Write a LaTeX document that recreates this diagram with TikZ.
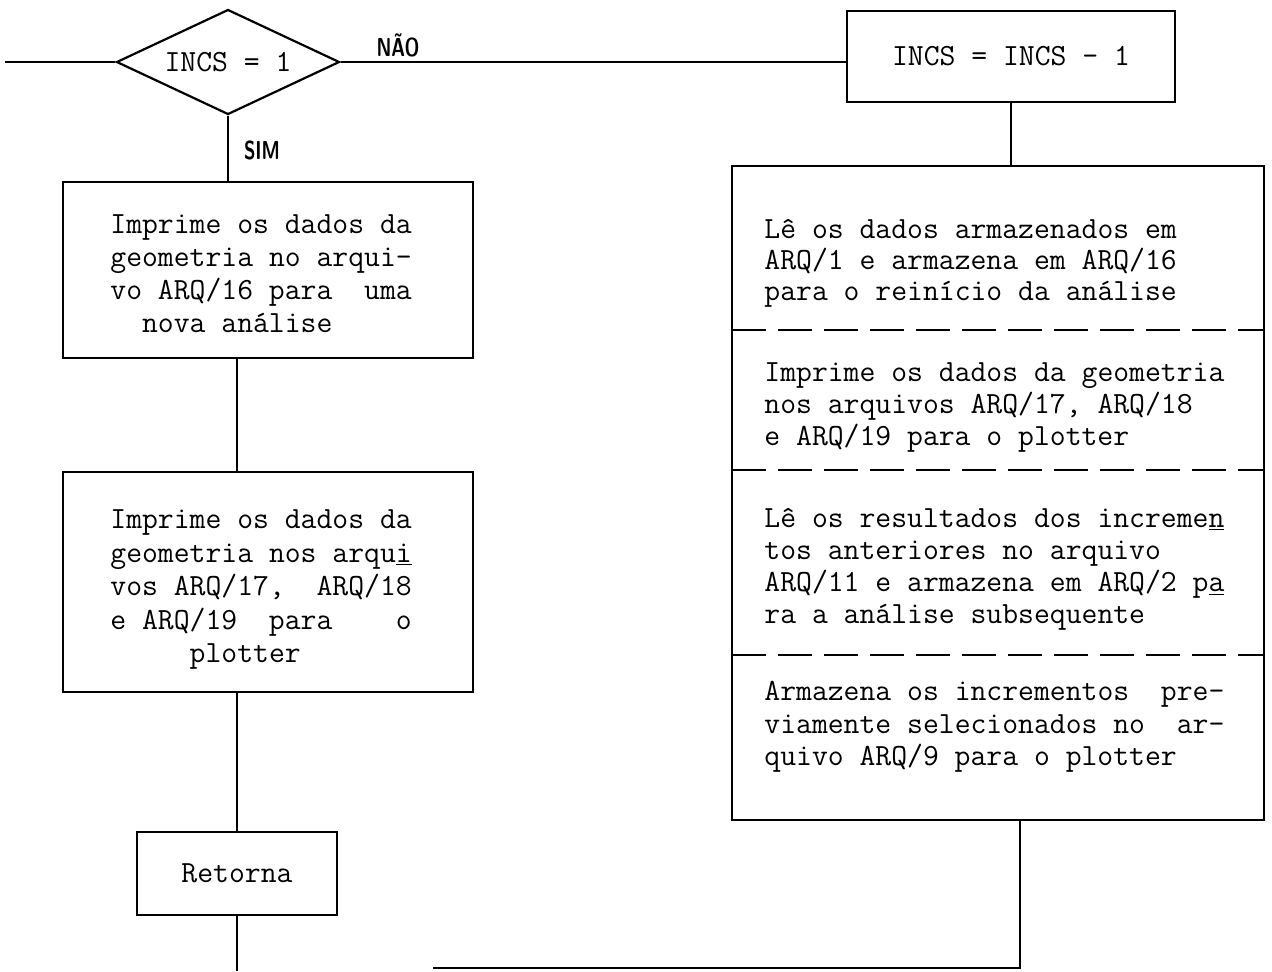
\documentclass[tikz,border=0pt]{standalone}
\usepackage{graphicx}
\usetikzlibrary{shapes.geometric}
\begin{document}
\begin{tikzpicture}[x=0.5pt,y=-0.5pt,
  every node/.style={inner sep=0pt},
  ln/.style={line width=1.1pt},
  boxs/.style={draw, line width=1.1pt, rectangle},
  tx/.style={anchor=base west, font=\fontsize{15.4pt}{16pt}\selectfont\ttfamily},
  ctx/.style={font=\fontsize{15.4pt}{16pt}\selectfont\ttfamily},
  lab/.style={font=\fontsize{13pt}{13pt}\selectfont\sffamily\bfseries},
  sep/.style={line width=1.1pt, dash pattern=on 17pt off 6pt}]
\useasboundingbox (0,0) rectangle (1272,971);

% decision and boxes
\node[draw, ln, diamond, aspect=2.1, minimum width=111.5pt, minimum height=52.5pt, ctx] (dia) at (228,62) {INCS = 1};
\node[boxs, minimum width=164pt, minimum height=45.5pt, ctx] (inc) at (1011,56.5) {INCS = INCS - 1};
\node[boxs, minimum width=205pt, minimum height=88pt] (b1) at (268,270) {};
\node[boxs, minimum width=205pt, minimum height=110pt] (b2) at (268,582) {};
\node[boxs, minimum width=100pt, minimum height=41.5pt, ctx] (ret) at (237,873.5) {Retorna};
\node[boxs, minimum width=266pt, minimum height=327pt] (big) at (998,493) {};

% labels
\node[lab] (nao) at (398,45) {\scalebox{0.72}[1]{NÃO}};
\node[lab] (sim) at (262,150) {\scalebox{0.72}[1]{SIM}};

% separators in the big box
\draw[sep] (732,330) -- (1264,330);
\draw[sep] (732,470) -- (1264,470);
\draw[sep] (732,655) -- (1264,655);

% texts of left boxes
\foreach \t [count=\i] in {{Imprime os dados da},{geometria no arqui-},{vo ARQ/16 para~ uma},{~~nova análise}}
  \node[tx] (la\i) at (110, 200+33*\i) {\t};
\foreach \t [count=\i] in {{Imprime os dados da},{geometria nos arqu\underline{i}},{vos ARQ/17,~ ARQ/18},{e ARQ/19~ para~~~ o},{~~~~~plotter}}
  \node[tx] (lb\i) at (110, 495+33.5*\i) {\t};

% texts of the big box
\foreach \t [count=\i] in {{Lê os dados armazenados em},{ARQ/1 e armazena em ARQ/16},{para o reinício da análise}}
  \node[tx] (ra\i) at (764, 207+31*\i) {\t};
\foreach \t [count=\i] in {{Imprime os dados da geometria},{nos arquivos ARQ/17, ARQ/18},{e ARQ/19 para o plotter}}
  \node[tx] (rb\i) at (764, 349+32*\i) {\t};
\foreach \t [count=\i] in {{Lê os resultados dos increme\underline{n}},{tos anteriores no arquivo},{ARQ/11 e armazena em ARQ/2 p\underline{a}},{ra a análise subsequente}}
  \node[tx] (rc\i) at (764, 495+32*\i) {\t};
\foreach \t [count=\i] in {{Armazena os incrementos~ pre-},{viamente selecionados no~ ar-},{quivo ARQ/9 para o plotter}}
  \node[tx] (rd\i) at (764, 668+32.5*\i) {\t};

% connectors
\coordinate (start) at (5,62);
\coordinate (endL) at (237,971);
\coordinate (bc) at (1020,968);
\coordinate (endR) at (433,968);
\draw[ln] (start) -- (dia.west);
\draw[ln] (dia.east) -- (dia.east -| inc.west);
\draw[ln] (dia.south) -- (dia.south |- b1.north);
\draw[ln] (b1.south -| ret.north) -- (b2.north -| ret.north);
\draw[ln] (b2.south -| ret.north) -- (ret.north);
\draw[ln] (ret.south) -- (endL);
\draw[ln] (inc.south) -- (inc.south |- big.north);
\draw[ln] (big.south -| bc) -- (bc) -- (endR);
\end{tikzpicture}
\end{document}
